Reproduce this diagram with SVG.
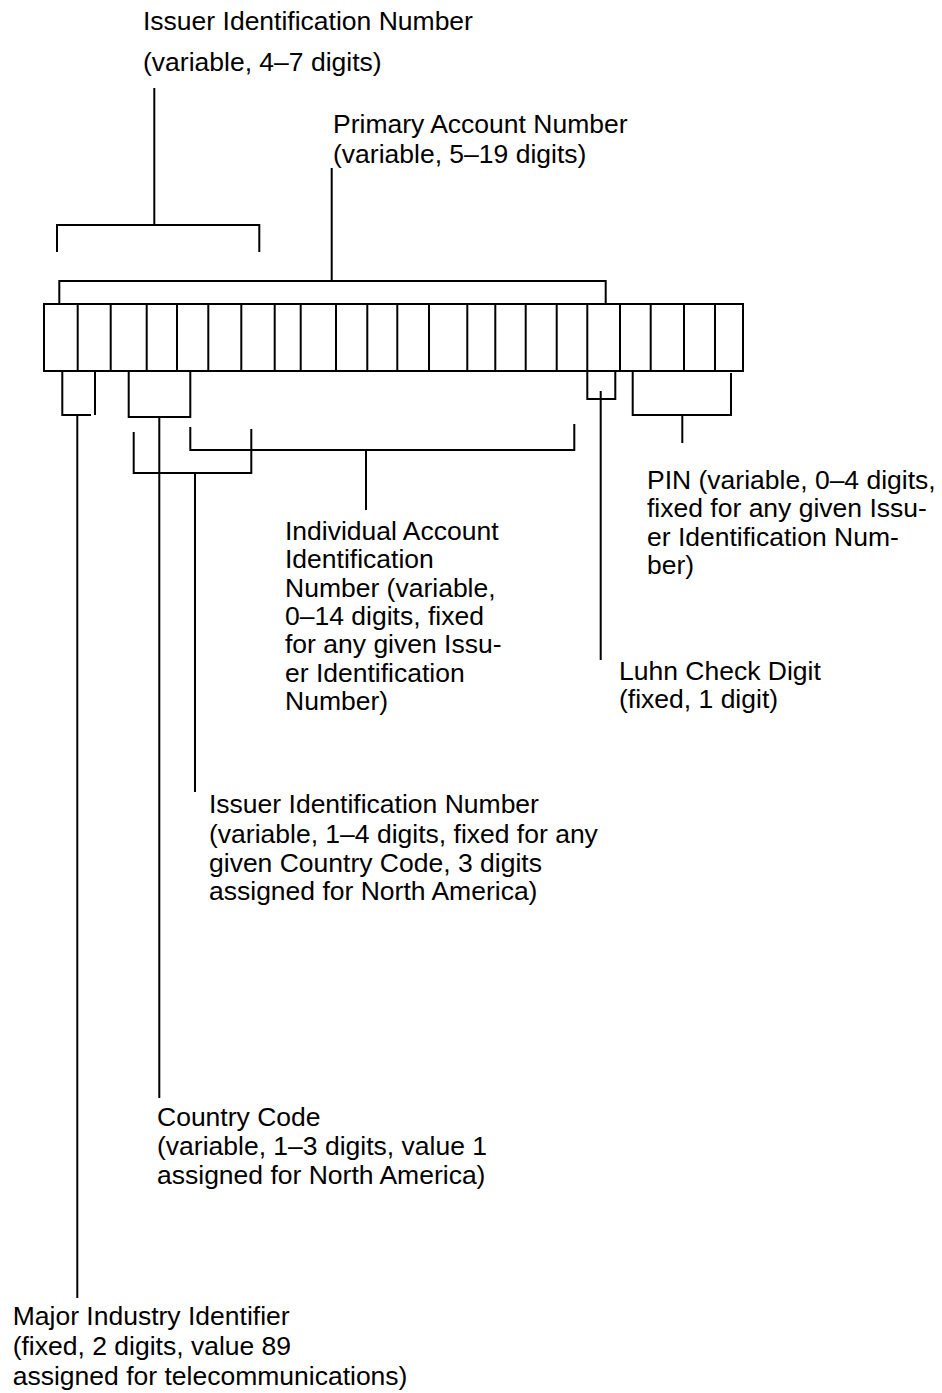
<svg xmlns="http://www.w3.org/2000/svg" width="942" height="1393" viewBox="0 0 942 1393">
<style>
text{font-family:"Liberation Sans",Arial,sans-serif;font-size:26.5px;fill:#000}
.ln{stroke:#000;stroke-width:2;fill:none;stroke-linecap:butt}
</style>
<rect x="0" y="0" width="942" height="1393" fill="#fff"/>
<g id="digits" class="ln">
<rect x="44" y="304" width="699" height="67"/>
<path d="M77.7 304V371M110.7 304V371M146.7 304V371M177 304V371M208.3 304V371M241.3 304V371M274.7 304V371M300.7 304V371M336 304V371M367.3 304V371M397.3 304V371M429 304V371M467.3 304V371M495.3 304V371M525.7 304V371M556.7 304V371M587.3 304V371M620 304V371M650.7 304V371M684 304V371M715 304V371"/>
</g>
<g id="connectors" class="ln">
<path d="M57 252V225H259.3V252M154.3 88V225"/>
<path d="M59.3 304V281H605.7V304M331.7 168V281"/>
<path d="M62.3 371V415H91M95 371V415M77.3 415V1298"/>
<path d="M128.7 371V417H190.3V371M159.3 417V1098"/>
<path d="M133.7 432V473H251.3V429M195 473V792"/>
<path d="M190.3 427V450H574.3V424M366 450V510"/>
<path d="M587.3 371V399H615.3V371M600.7 391V660"/>
<path d="M632.7 371V415H731V373M682.3 415V443"/>
</g>
<g id="iin-top">
<text x="143" y="30">Issuer Identification Number</text>
<text x="143" y="71">(variable, 4–7 digits)</text>
</g>
<g id="pan">
<text x="333" y="133">Primary Account Number</text>
<text x="333" y="163">(variable, 5–19 digits)</text>
</g>
<g id="iain">
<text x="285" y="540">Individual Account</text>
<text x="285" y="568.3">Identification</text>
<text x="285" y="596.7">Number (variable,</text>
<text x="285" y="625">0–14 digits, fixed</text>
<text x="285" y="653.3">for any given Issu-</text>
<text x="285" y="681.7">er Identification</text>
<text x="285" y="710">Number)</text>
</g>
<g id="pin">
<text x="647" y="489">PIN (variable, 0–4 digits,</text>
<text x="647" y="517.3">fixed for any given Issu-</text>
<text x="647" y="545.6">er Identification Num-</text>
<text x="647" y="574">ber)</text>
</g>
<g id="luhn">
<text x="619" y="680">Luhn Check Digit</text>
<text x="619" y="708.3">(fixed, 1 digit)</text>
</g>
<g id="iin">
<text x="209" y="813">Issuer Identification Number</text>
<text x="209" y="842.5">(variable, 1–4 digits, fixed for any</text>
<text x="209" y="871.5">given Country Code, 3 digits</text>
<text x="209" y="900">assigned for North America)</text>
</g>
<g id="country-code">
<text x="157" y="1126">Country Code</text>
<text x="157" y="1155">(variable, 1–3 digits, value 1</text>
<text x="157" y="1184">assigned for North America)</text>
</g>
<g id="mii">
<text x="12.7" y="1325">Major Industry Identifier</text>
<text x="12.7" y="1355">(fixed, 2 digits, value 89</text>
<text x="12.7" y="1385">assigned for telecommunications)</text>
</g>
</svg>
